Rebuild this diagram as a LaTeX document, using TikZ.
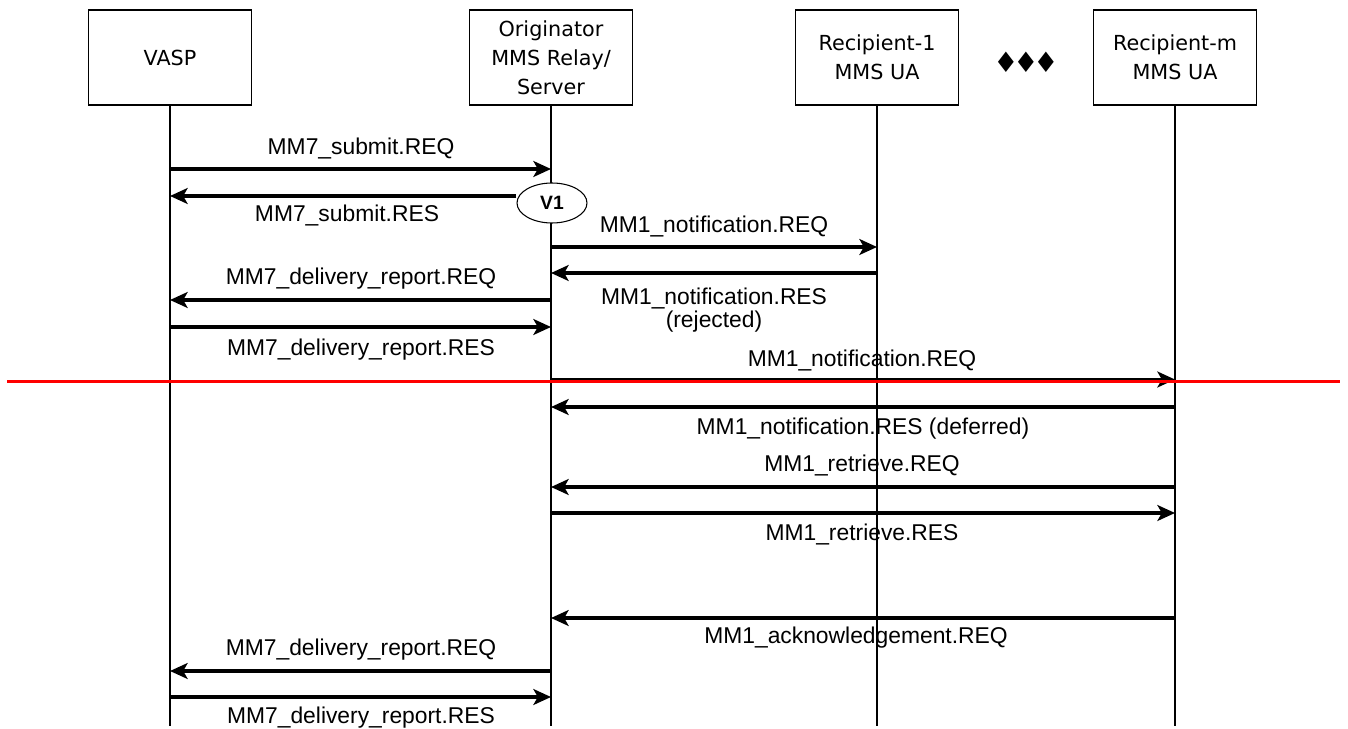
\documentclass[tikz,border=0pt]{standalone}
\usepackage{fontspec}
\setmainfont{Liberation Sans}
\newfontfamily\boxfont{DejaVu Sans}
\usetikzlibrary{arrows.meta,shapes.geometric}

\begin{document}
\begin{tikzpicture}[x=0.02cm,y=-0.02cm,
    actor/.style={draw,line width=0.6pt,minimum width=3.26cm,minimum height=1.9cm,
      align=center,font=\boxfont\fontsize{11.8}{16.5}\selectfont},
    life/.style={line width=0.6pt},
    msg/.style={line width=2.1pt,-{Stealth[length=10pt,width=9pt,inset=2.5pt]}},
    lbl/.style={inner sep=0pt,align=center,font=\fontsize{13}{13.5}\selectfont}]
  \useasboundingbox (0,0) rectangle (1348,729);
  \node (vasp) at (170,57.5) [actor] {VASP};
  \node (orig) at (551,57.5) [actor] {Originator\\MMS Relay/\\Server};
  \node (rec1) at (877,57.5) [actor] {Recipient-1\\MMS UA};
  \node (recm) at (1175,57.5) [actor] {Recipient-m\\MMS UA};
  \node (dots) at (1026,62) {\boxfont\fontsize{16}{16}\selectfont ♦\kern-3pt♦\kern-3pt♦};
  \draw[life] (vasp.south) to ++(0,620);
  \draw[life] (orig.south) to ++(0,620);
  \draw[life] (rec1.south) to ++(0,620);
  \draw[life] (recm.south) to ++(0,620);

  \node (v1) at (552,203) [draw,ellipse,line width=0.6pt,fill=white,minimum width=1.4cm,
    minimum height=0.8cm,font=\bfseries\fontsize{11}{12}\selectfont] {V1};

  \draw[msg] (vasp |- 0,169) to (orig |- 0,169);
  \node (m1) at (361,148) [lbl] {MM7\_submit.REQ};
  \draw[msg] (v1.west |- 0,196) to (vasp |- 0,196);
  \node (m2) at (347,215) [lbl] {MM7\_submit.RES};
  \draw[msg] (orig |- 0,247) to (rec1 |- 0,247);
  \node (m3) at (714,226) [lbl] {MM1\_notification.REQ};
  \draw[msg] (rec1 |- 0,273) to (orig |- 0,273);
  \node (m4) at (714,310) [lbl] {MM1\_notification.RES\\(rejected)};
  \draw[msg] (orig |- 0,300) to (vasp |- 0,300);
  \node (m5) at (361,279) [lbl] {MM7\_delivery\_report.REQ};
  \draw[msg] (vasp |- 0,327) to (orig |- 0,327);
  \node (m6) at (361,350) [lbl] {MM7\_delivery\_report.RES};

  \draw[msg] (orig |- 0,379.5) to (recm |- 0,379.5);
  \node (m7) at (862,360) [lbl] {MM1\_notification.REQ};
  \draw[red,line width=1.7pt] (7,381.5) -- (1340,381.5);
  \draw[msg] (recm |- 0,407) to (orig |- 0,407);
  \node (m8) at (863,429) [lbl] {MM1\_notification.RES (deferred)};
  \draw[msg] (recm |- 0,487) to (orig |- 0,487);
  \node (m9) at (862,465) [lbl] {MM1\_retrieve.REQ};
  \draw[msg] (orig |- 0,513) to (recm |- 0,513);
  \node (m10) at (862,534) [lbl] {MM1\_retrieve.RES};

  \draw[msg] (recm |- 0,618) to (orig |- 0,618);
  \node (m11) at (856,638) [lbl] {MM1\_acknowledgement.REQ};
  \draw[msg] (orig |- 0,671) to (vasp |- 0,671);
  \node (m12) at (361,650) [lbl] {MM7\_delivery\_report.REQ};
  \draw[msg] (vasp |- 0,697) to (orig |- 0,697);
  \node (m13) at (361,718) [lbl] {MM7\_delivery\_report.RES};
\end{tikzpicture}
\end{document}
